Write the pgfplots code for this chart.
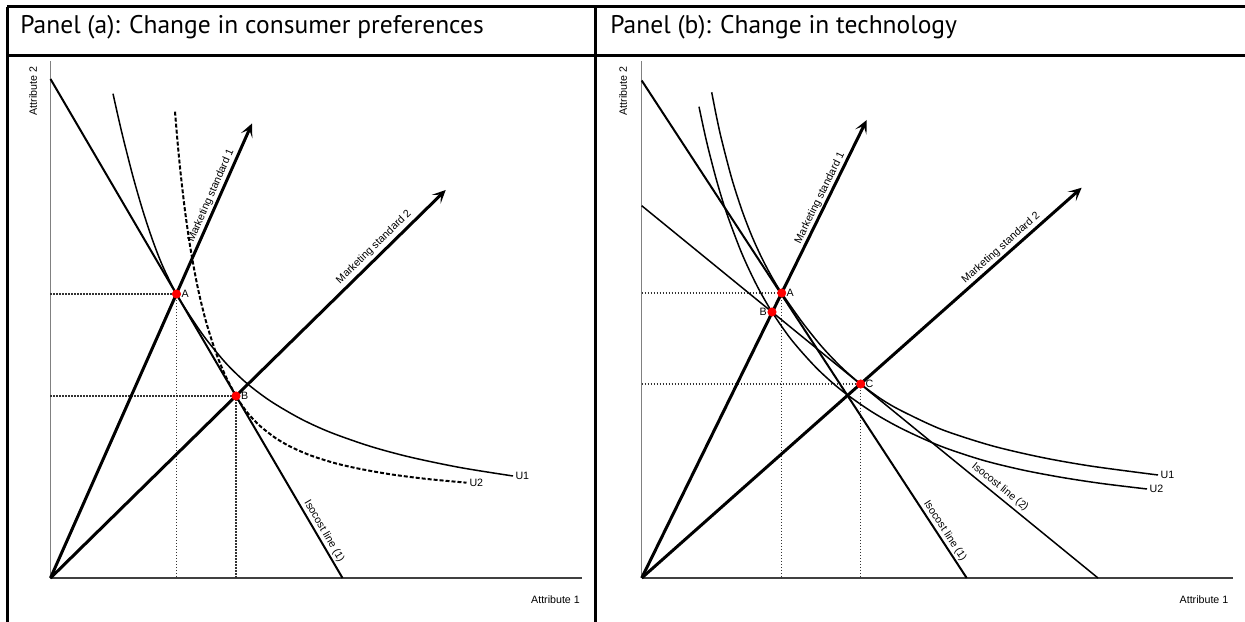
\documentclass[border=0pt]{standalone}
\usepackage{fontspec}
\setmainfont{Liberation Sans}
\newfontfamily\titlefont{PT Sans}
\usepackage{pgfplots}
\pgfplotsset{compat=1.18}
\usetikzlibrary{arrows.meta}
\newcommand{\lab}{\fontsize{6.4pt}{7.5pt}\selectfont}
\pgfplotsset{
  panel/.style={x=0.6pt, y=0.6pt, xmin=0, ymin=0, axis lines=left,
    axis line style={-}, ticks=none, clip=false, anchor=south west,
    x axis line style={black!75, line width=0.9pt},
    y axis line style={black!50, line width=0.9pt}},
  ms/.style={line width=1.8pt, -{Stealth[length=8pt,width=7.5pt,inset=4pt]}},
  iso/.style={line width=1.2pt, black},
  ucurve/.style={line width=0.9pt, black, smooth, tension=0.5},
  guide/.style={line width=0.9pt, black!80, dash pattern=on 0.9pt off 0.9pt},
  pt/.style={only marks, mark=*, mark size=2.5pt, color=red},
}
\begin{document}
\begin{tikzpicture}[x=0.6pt, y=0.6pt]
\useasboundingbox (0,0) rectangle (1245,622);
% table frame
\draw[line width=1.5pt] (7.3,615.3) -- (1245,615.3);
\draw[line width=1.5pt] (7.3,566.3) -- (1245,566.3);
\draw[line width=1.5pt] (7.3,615.3) -- (7.3,0);
\draw[line width=1.5pt] (595.7,615.3) -- (595.7,0);
\node[anchor=base west, inner sep=0pt, font=\titlefont\fontsize{15.3pt}{17pt}\selectfont] at (20,588) {Panel (a): Change in consumer preferences};
\node[anchor=base west, inner sep=0pt, font=\titlefont\fontsize{15.3pt}{17pt}\selectfont] at (610,588) {Panel (b): Change in technology};

% ---------------- Panel (a)
\begin{axis}[panel, xmax=531.5, ymax=517.3, at={(30.3pt,26.4pt)}]
\addplot[guide] coordinates {(0,284) (126,284) (126,0)};
\addplot[guide] coordinates {(0,182) (185.5,182) (185.5,0)};
\addplot[iso] coordinates {(0,499) (292,0)};
\addplot[ucurve] coordinates {(62.5,484.3) (67.5,461.9) (72.5,440.6) (82.5,401.4) (92.5,366.8) (102.5,336.7) (112.5,311.2) (126,284) (141,259.8) (156,238.3) (176,214.2) (196.2,194.8) (220,176.9) (250,159.3) (280,145.6) (320,131.6) (360,120.8) (410,110.4) (462.5,102)};
\addplot[ucurve, line width=1.2pt, dash pattern=on 2.4pt off 1.2pt] coordinates {(124.5,466.3) (127,436.7) (130,405.9) (134.5,367.3) (140,329.4) (147,291.6) (155,258.3) (165,226.5) (175,202.1) (185.5,182) (190,174.8) (195,167.8) (200,161.7) (210,151.6) (225,140) (240,131.3) (260,122.6) (285,114.7) (310,109) (340,103.7) (375,99.2) (416,95.3)};
\addplot[ms] coordinates {(0,0) (201.5,454.5)};
\addplot[ms] coordinates {(0,0) (395.2,388)};
\addplot[pt] coordinates {(126,284) (185.5,182)};
\node[font=\lab, anchor=west, inner sep=1pt] at (axis cs:129,284) {A};
\node[font=\lab, anchor=west, inner sep=1pt] at (axis cs:188.5,182) {B};
\node[font=\lab, anchor=west, inner sep=1pt] at (axis cs:463,102) {U1};
\node[font=\lab, anchor=west, inner sep=1pt] at (axis cs:417,95) {U2};
\node[font=\lab, rotate=66.2] at (axis cs:160.5,382) {Marketing standard 1};
\node[font=\lab, rotate=44.5] at (axis cs:323.5,331) {Marketing standard 2};
\node[font=\lab, rotate=-59.7] at (axis cs:273.5,47) {Isocost line (1)};
\node[font=\lab, rotate=90] at (axis cs:-17.5,487) {Attribute 2};
\node[font=\lab] at (axis cs:505,-22) {Attribute 1};
\end{axis}

% ---------------- Panel (b)
\begin{axis}[panel, xmax=591.3, ymax=517, at={(385.02pt,26.4pt)}]
\addplot[guide] coordinates {(0,285) (140,285) (140,0)};
\addplot[guide] coordinates {(0,194) (219,194) (219,0)};
\addplot[iso] coordinates {(0,497.5) (325,0)};
\addplot[iso, line width=0.9pt] coordinates {(0,372.3) (456.3,0)};
\addplot[ucurve] coordinates {(70,485.7) (75,460.4) (80,437.9) (90,399.7) (100,368.4) (110,342.3) (120,320.3) (130,301.3) (140,285) (160,256.5) (180,231.5) (200,210.5) (219,194) (240,178.6) (260,167.1) (300,148.5) (350,132.3) (400,120.6) (450,111.8) (516.3,103)};
\addplot[ucurve] coordinates {(57.3,471.3) (65,435.9) (75,397.2) (85,364.7) (100,324.9) (115,292.8) (130.3,266) (150,237.9) (175,209.8) (200,187.5) (230,166.3) (260,149.4) (298.3,132.1) (340,118.1) (380,108.2) (420,100.6) (460,94.5) (505.3,89)};
\addplot[ms] coordinates {(0,0) (225,458)};
\addplot[ms] coordinates {(0,0) (440,390.3)};
\addplot[pt] coordinates {(140,285) (130.3,266) (219,194)};
\node[font=\lab, anchor=west, inner sep=1pt] at (axis cs:143,285) {A};
\node[font=\lab, anchor=east, inner sep=1pt] at (axis cs:127,266) {B};
\node[font=\lab, anchor=west, inner sep=1pt] at (axis cs:222,194) {C};
\node[font=\lab, anchor=west, inner sep=1pt] at (axis cs:517,103) {U1};
\node[font=\lab, anchor=west, inner sep=1pt] at (axis cs:506,89) {U2};
\node[font=\lab, rotate=63.8] at (axis cs:178.3,380) {Marketing standard 1};
\node[font=\lab, rotate=41.6] at (axis cs:359.3,330) {Marketing standard 2};
\node[font=\lab, rotate=-56.8] at (axis cs:303.3,47) {Isocost line (1)};
\node[font=\lab, rotate=-39.2] at (axis cs:358.3,91) {Isocost line (2)};
\node[font=\lab, rotate=90] at (axis cs:-18.7,487) {Attribute 2};
\node[font=\lab] at (axis cs:562.3,-22) {Attribute 1};
\end{axis}
\end{tikzpicture}
\end{document}
